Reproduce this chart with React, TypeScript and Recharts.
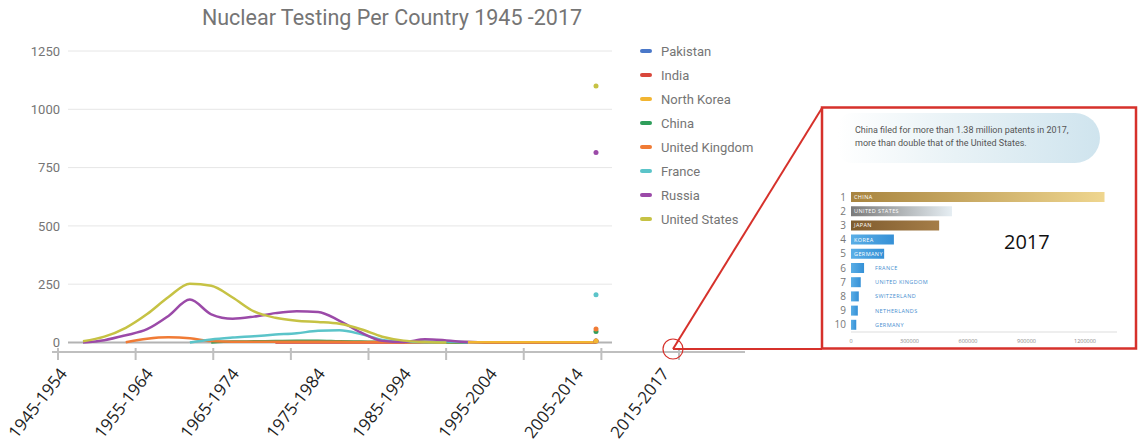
import React from 'react';
import {
  ComposedChart, Line, XAxis, YAxis, CartesianGrid, ReferenceLine,
  BarChart, Bar, Cell, LabelList,
} from 'recharts';

// ---- nuclear tests (smoothed, every 3 years) ----
const years = [1945, 1948, 1951, 1954, 1957, 1960, 1963, 1966, 1969, 1972, 1975, 1978, 1981, 1984, 1987, 1990, 1993, 1996, 1999, 2002, 2005, 2008, 2011, 2014, 2017];
const _ = null;
const pakistan = [_, _, _, _, _, _, _, _, _, _, _, _, _, _, _, _, _, 0, 2, 0, 0, 0, 0, 0, 0];
const india = [_, _, _, _, _, _, _, _, _, 0, 0, 0, 0, 0, 0, 0, 0, 1, 2, 0, 0, 0, 0, 0, 0];
const northKorea = [_, _, _, _, _, _, _, _, _, _, _, _, _, _, _, _, _, 0, 1, 1, 1, 1, 1, 1, 1];
const china = [_, _, _, _, _, _, 0, 4, 5, 6, 7, 7, 5, 4, 3, 3, 3, 1, 0, _, _, _, _, _, _];
const unitedKingdom = [_, _, 1, 16, 22, 18, 6, 3, 3, 3, 3, 3, 3, 2, 2, 1, 0, _, _, _, _, _, _, _, _];
const france = [_, _, _, _, _, 0, 13, 21, 27, 34, 40, 50, 52, 36, 11, 3, 1, 4, 0, _, _, _, _, _, _];
const russia = [0, 10, 31, 57, 114, 184, 121, 102, 111, 126, 134, 131, 93, 43, 7, 2, 14, 9, 1, _, _, _, _, _, _];
const unitedStates = [5, 25, 63, 122, 195, 252, 243, 193, 133, 106, 93, 88, 80, 57, 25, 8, 2, 0, _, _, _, _, _, _, _];

// totals shown as dots at the end
const totals = {
  pakistan: 6, india: 6, northKorea: 6, china: 47,
  unitedKingdom: 58, france: 205, russia: 815, unitedStates: 1100,
};

const yTicks = [0, 250, 500, 750, 1000, 1250];
const decadeLabels = ['1945-1954', '1955-1964', '1965-1974', '1975-1984', '1985-1994', '1995-2004', '2005-2014', '2015-2017'];
const labelTicks = [0, 1, 2, 3, 4, 5, 6, 7];
const markTicks = [0, 1, 2, 3, 4, 5, 6, 7, 8];

const series = [
  { key: 'pakistan', name: 'Pakistan', color: '#4a78c9', values: pakistan },
  { key: 'india', name: 'India', color: '#d9473b', values: india },
  { key: 'northKorea', name: 'North Korea', color: '#f2b531', values: northKorea },
  { key: 'china', name: 'China', color: '#2f9e5b', values: china },
  { key: 'unitedKingdom', name: 'United Kingdom', color: '#f07b35', values: unitedKingdom },
  { key: 'france', name: 'France', color: '#5bc4c9', values: france },
  { key: 'russia', name: 'Russia', color: '#9b4aa8', values: russia },
  { key: 'unitedStates', name: 'United States', color: '#c6c244', values: unitedStates },
];

// ---- patent filings inset (2017) ----
const patentRanks = ['1', '2', '3', '4', '5', '6', '7', '8', '9', '10'];
const patentCountries = ['CHINA', 'UNITED STATES', 'JAPAN', 'KOREA', 'GERMANY', 'FRANCE', 'UNITED KINGDOM', 'SWITZERLAND', 'NETHERLANDS', 'GERMANY'];
const patentFilings = [1300000, 518000, 452000, 220000, 170000, 67000, 50000, 40000, 35000, 27000];
const patentTicks = [0, 300000, 600000, 900000, 1200000];
const barGradients = [
  ['#a8843f', '#efd68f'],
  ['#7a7a7a', '#e6eef3'],
  ['#7f5c2e', '#a57d47'],
  ['#5aaee6', '#3590d6'],
  ['#5aaee6', '#3590d6'],
  ['#5aaee6', '#3590d6'],
  ['#5aaee6', '#3590d6'],
  ['#5aaee6', '#3590d6'],
  ['#5aaee6', '#3590d6'],
  ['#5aaee6', '#3590d6'],
];

const rows = years.map((year, i) => {
  const row: Record<string, number | null> = { year };
  series.forEach((s) => {
    row[s.key] = s.values[i];
    if (i === years.length - 1) row[s.key + 'Total'] = (totals as any)[s.key];
  });
  return row;
});

const decadeRows = markTicks.map((i) => ({ i, v: 0 }));

const patentRows = patentRanks.map((rank, i) => ({
  rank, country: patentCountries[i], filings: patentFilings[i],
}));

const font = 'Roboto, sans-serif';

const AxisMark = (props: any) => {
  const { x, y } = props;
  return <line x1={x} x2={x} y1={y - 4} y2={y + 8} stroke="#bfbfbf" strokeWidth={2} />;
};

const DecadeTick = (props: any) => {
  const { x, y, payload } = props;
  const ty = y + 22;
  return (
    <text x={x} y={ty} transform={`rotate(-52, ${x}, ${ty})`} textAnchor="end"
      fontSize={17} fontFamily="'Open Sans', sans-serif" fill="#1f1f1f">
      {decadeLabels[payload.value]}
    </text>
  );
};

const CountryLabel = (props: any) => {
  const { x, y, height, index, value } = props;
  const inside = index < 5;
  return (
    <text x={inside ? x + 3 : x + 24} y={y + height / 2} dominantBaseline="central"
      fontSize={5.5} letterSpacing={0.4} fontFamily="'Open Sans', sans-serif"
      fill={inside ? '#ffffff' : '#4a8fd0'}>
      {value}
    </text>
  );
};

const axisChartProps = {
  width: 800, height: 141, data: decadeRows,
  margin: { top: 10, right: 55, bottom: 0, left: 52 },
};

export default function App() {
  return (
    <div style={{ position: 'absolute', left: 0, top: 0, width: 1138, height: 444, background: '#fff', overflow: 'hidden' }}>
      <div style={{ position: 'absolute', left: 0, top: 5, width: 784, textAlign: 'center', fontFamily: font, fontSize: 21.5, lineHeight: '26px', color: '#757575' }}>
        Nuclear Testing Per Country 1945 -2017
      </div>

      <div style={{ position: 'absolute', left: 0, top: 0 }}>
        <ComposedChart width={620} height={360} data={rows} margin={{ top: 51, right: 8, bottom: 17.5, left: 8 }}>
          <CartesianGrid vertical={false} stroke="#e6e6e6" />
          <XAxis type="number" dataKey="year" domain={[1945, 2017]} padding={{ left: 15, right: 16 }} hide />
          <YAxis domain={[0, 1250]} ticks={yTicks} width={60} axisLine={false} tickLine={false}
            tick={{ fontSize: 13, fill: '#757575', fontFamily: font }} />
          <ReferenceLine y={0} stroke="#b3b3b3" strokeWidth={2} />
          {series.map((s) => (
            <Line key={s.key} type="monotone" dataKey={s.key} stroke={s.color} strokeWidth={2.5}
              dot={false} isAnimationActive={false} />
          ))}
          {series.map((s) => (
            <Line key={s.key + 'Total'} dataKey={s.key + 'Total'} stroke="none"
              dot={{ r: 2.5, fill: s.color, stroke: s.color, strokeWidth: 0 }} isAnimationActive={false} />
          ))}
        </ComposedChart>
      </div>

      {/* legend */}
      <div style={{ position: 'absolute', left: 640, top: 39, fontFamily: font, fontSize: 13, color: '#757575' }}>
        {series.map((s) => (
          <div key={s.key} style={{ height: 24, display: 'flex', alignItems: 'center' }}>
            <span style={{ width: 12, height: 4, borderRadius: 2, background: s.color, marginRight: 9 }} />
            {s.name}
          </div>
        ))}
      </div>

      {/* decade axis: tick marks */}
      <div style={{ position: 'absolute', left: 0, top: 303 }}>
        <ComposedChart {...axisChartProps}>
          <YAxis hide domain={[0, 1]} />
          <XAxis type="number" dataKey="i" domain={[0, 8]} ticks={markTicks} interval={0}
            padding={{ left: 6, right: 66 }} height={92} tickSize={0} tickMargin={0}
            axisLine={{ stroke: '#bfbfbf', strokeWidth: 2 }} tickLine={false} tick={(p: any) => <AxisMark {...p} />} />
          <Line dataKey="v" stroke="none" dot={false} isAnimationActive={false} />
        </ComposedChart>
      </div>

      {/* decade axis: labels */}
      <div style={{ position: 'absolute', left: 0, top: 303 }}>
        <ComposedChart {...axisChartProps}>
          <YAxis hide domain={[0, 1]} />
          <XAxis type="number" dataKey="i" domain={[0, 7]} ticks={labelTicks} interval={0} allowDataOverflow
            padding={{ left: 16, right: 75 }} height={92} tickSize={0} tickMargin={0}
            axisLine={false} tickLine={false} tick={(p: any) => <DecadeTick {...p} />} />
          <Line dataKey="v" stroke="none" dot={false} isAnimationActive={false} />
        </ComposedChart>
      </div>

      {/* inset */}
      <div style={{
        position: 'absolute', left: 838, top: 113, width: 262, height: 50, boxSizing: 'border-box',
        borderRadius: '14px 25px 25px 14px', paddingLeft: 17, paddingTop: 10.5,
        background: 'linear-gradient(90deg, #ffffff 0%, #e8f2f6 45%, #cfe4ee 100%)',
        fontFamily: font, fontSize: 9, lineHeight: '13px', color: '#555', whiteSpace: 'nowrap',
      }}>
        <div>China filed for more than 1.38 million patents in 2017,</div>
        <div>more than double that of the United States.</div>
      </div>

      <div style={{ position: 'absolute', left: 800, top: 180 }}>
        <BarChart width={338} height={170} data={patentRows} layout="vertical" margin={{ top: 10, right: 21, bottom: 2, left: 21 }}>
          <defs>
            {barGradients.map((g, i) => (
              <linearGradient key={i} id={`pg${i}`} x1="0" y1="0" x2="1" y2="0">
                <stop offset="0%" stopColor={g[0]} />
                <stop offset="100%" stopColor={g[1]} />
              </linearGradient>
            ))}
          </defs>
          <XAxis type="number" domain={[0, 1364000]} ticks={patentTicks} height={16} tickSize={0} tickMargin={7}
            axisLine={{ stroke: '#dddddd' }} tickLine={false}
            tick={{ fontSize: 5.5, fill: '#888', fontFamily: "'Open Sans', sans-serif" }} />
          <YAxis type="category" dataKey="rank" width={30} axisLine={false} tickLine={false} tickSize={0} tickMargin={5}
            interval={0} tick={{ fontSize: 10, fill: '#777', fontFamily: "'Open Sans', sans-serif" }} />
          <Bar dataKey="filings" barSize={10} isAnimationActive={false}>
            {patentRows.map((r, i) => <Cell key={i} fill={`url(#pg${i})`} />)}
            <LabelList dataKey="country" content={(p: any) => <CountryLabel {...p} />} />
          </Bar>
        </BarChart>
      </div>

      <div style={{ position: 'absolute', left: 1004, top: 228, fontFamily: "'Open Sans', sans-serif", fontSize: 20, color: '#111' }}>
        2017
      </div>

      {/* zoom callout */}
      <svg width={1138} height={444} style={{ position: 'absolute', left: 0, top: 0, pointerEvents: 'none' }}>
        <rect x={822} y={107.5} width={314} height={241} fill="none" stroke="#d6312b" strokeWidth={2.5} />
        <line x1={673} y1={349} x2={822} y2={108} stroke="#d6312b" strokeWidth={2} />
        <line x1={673} y1={349} x2={822} y2={349} stroke="#d6312b" strokeWidth={2} />
        <circle cx={673} cy={349} r={10} fill="none" stroke="#d6312b" strokeWidth={1.2} />
      </svg>
    </div>
  );
}
